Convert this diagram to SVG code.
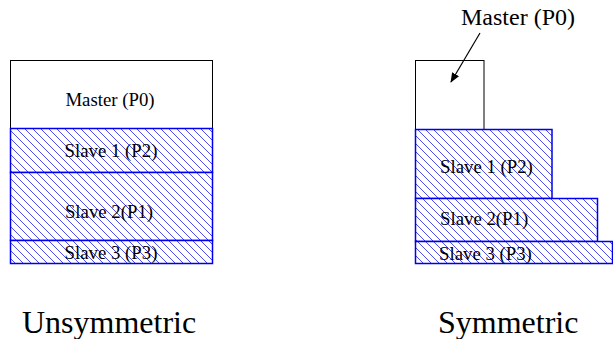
<svg xmlns="http://www.w3.org/2000/svg" width="613" height="339" viewBox="0 0 613 339">
<style>
text{font-family:"Liberation Serif","Times New Roman",serif;fill:#000}
.lbl{font-size:18.8px}
.top{font-size:24px}
.cap{font-size:32px}
.m{fill:#fff;stroke:#000;stroke-width:1}
.s{fill:url(#hatch);stroke:#0000ee;stroke-width:1.5}
</style>
<defs>
<pattern id="hatch" patternUnits="userSpaceOnUse" width="8" height="8">
<rect width="8" height="8" fill="#fff"/>
<path d="M0,0 L8,8 M-4,4 L4,12 M4,-4 L12,4" stroke="#3838f0" stroke-width="0.9"/>
</pattern>
<marker id="arr" markerWidth="10" markerHeight="8" refX="9" refY="4" orient="auto" markerUnits="userSpaceOnUse">
<path d="M0,0 L10,4 L0,8 Z" fill="#000"/>
</marker>
</defs>
<g id="unsym">
<g id="u-master"><rect class="m" x="10.5" y="60.5" width="202" height="68"/><text class="lbl" x="110" y="106" text-anchor="middle">Master (P0)</text></g>
<g id="u-slave1"><rect class="s" x="10.5" y="128.5" width="202" height="44"/><text class="lbl" x="111" y="157" text-anchor="middle">Slave 1 (P2)</text></g>
<g id="u-slave2"><rect class="s" x="10.5" y="172.5" width="202" height="68"/><text class="lbl" x="109" y="218" text-anchor="middle">Slave 2(P1)</text></g>
<g id="u-slave3"><rect class="s" x="10.5" y="240.5" width="202" height="23"/><text class="lbl" x="111" y="259" text-anchor="middle">Slave 3 (P3)</text></g>
<text id="u-cap" class="cap" x="22" y="333">Unsymmetric</text>
</g>
<g id="sym">
<g id="s-master"><rect class="m" x="415.5" y="60.5" width="68.5" height="69"/><text class="top" x="518" y="25" text-anchor="middle">Master (P0)</text></g>
<g id="s-slave1"><rect class="s" x="415.5" y="129.5" width="136.5" height="69"/><text class="lbl" x="440" y="173">Slave 1 (P2)</text></g>
<g id="s-slave2"><rect class="s" x="415.5" y="198.5" width="182" height="43"/><text class="lbl" x="440" y="225">Slave 2(P1)</text></g>
<g id="s-slave3"><rect class="s" x="415.5" y="241.5" width="197" height="22"/><text class="lbl" x="439" y="260">Slave 3 (P3)</text></g>
<text id="s-cap" class="cap" x="438" y="333">Symmetric</text>
</g>
<g id="connectors">
<line x1="480" y1="33" x2="451" y2="82" stroke="#000" stroke-width="1.2" marker-end="url(#arr)"/>
</g>
</svg>
